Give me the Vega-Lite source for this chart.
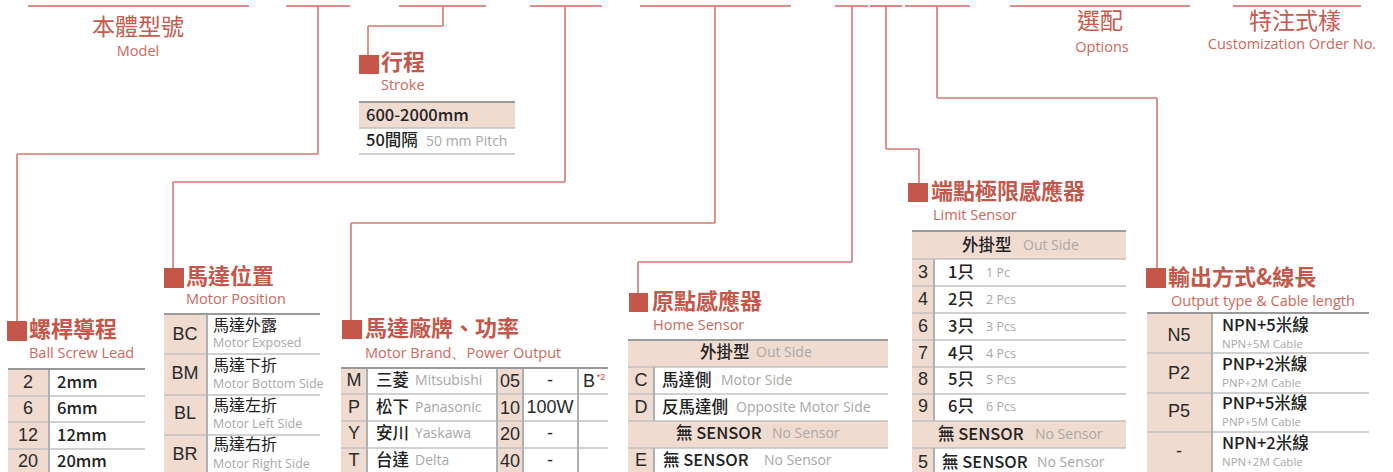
{
  "$schema": "https://vega.github.io/schema/vega-lite/v6.json",
  "width": 1393,
  "height": 472,
  "autosize": {"type": "none"},
  "padding": 0,
  "background": "white",
  "config": {"view": {"stroke": null}},
  "datasets": {
    "pink": [
      {"x": 359, "x2": 515, "y": 102, "y2": 128},
      {"x": 8, "x2": 49, "y": 369, "y2": 472},
      {"x": 164, "x2": 207, "y": 314, "y2": 472},
      {"x": 341, "x2": 367, "y": 368, "y2": 472},
      {"x": 497, "x2": 523, "y": 368, "y2": 472},
      {"x": 628, "x2": 888, "y": 340, "y2": 367},
      {"x": 628, "x2": 654, "y": 367, "y2": 421},
      {"x": 628, "x2": 888, "y": 421, "y2": 448},
      {"x": 628, "x2": 654, "y": 448, "y2": 472},
      {"x": 912, "x2": 1126, "y": 231, "y2": 259},
      {"x": 912, "x2": 934, "y": 259, "y2": 421},
      {"x": 912, "x2": 1126, "y": 421, "y2": 448},
      {"x": 912, "x2": 934, "y": 448, "y2": 472},
      {"x": 1147, "x2": 1212, "y": 313, "y2": 472}
    ],
    "marks": [
      {"x": 7, "x2": 27, "y": 321, "y2": 341},
      {"x": 164, "x2": 184, "y": 268, "y2": 288},
      {"x": 359, "x2": 379, "y": 55, "y2": 74},
      {"x": 342, "x2": 362, "y": 320, "y2": 339},
      {"x": 629, "x2": 648, "y": 293, "y2": 312},
      {"x": 908, "x2": 928, "y": 183, "y2": 202},
      {"x": 1146, "x2": 1166, "y": 268, "y2": 288}
    ],
    "top": [
      {"x": 28, "x2": 249, "y": 6, "y2": 6},
      {"x": 286, "x2": 350, "y": 6, "y2": 6},
      {"x": 399, "x2": 486, "y": 6, "y2": 6},
      {"x": 530, "x2": 602, "y": 6, "y2": 6},
      {"x": 640, "x2": 791, "y": 6, "y2": 6},
      {"x": 835, "x2": 868, "y": 6, "y2": 6},
      {"x": 870, "x2": 902, "y": 6, "y2": 6},
      {"x": 905, "x2": 970, "y": 6, "y2": 6},
      {"x": 1010, "x2": 1190, "y": 6, "y2": 6},
      {"x": 1233, "x2": 1361, "y": 6, "y2": 6}
    ],
    "conn": [
      {"x": 318, "x2": 318, "y": 6, "y2": 154},
      {"x": 17, "x2": 318, "y": 154, "y2": 154},
      {"x": 17, "x2": 17, "y": 154, "y2": 321},
      {"x": 443, "x2": 443, "y": 6, "y2": 26},
      {"x": 368, "x2": 443, "y": 26, "y2": 26},
      {"x": 368, "x2": 368, "y": 26, "y2": 55},
      {"x": 565, "x2": 565, "y": 6, "y2": 182},
      {"x": 173, "x2": 565, "y": 182, "y2": 182},
      {"x": 173, "x2": 173, "y": 182, "y2": 268},
      {"x": 715, "x2": 715, "y": 6, "y2": 223},
      {"x": 351, "x2": 715, "y": 223, "y2": 223},
      {"x": 351, "x2": 351, "y": 223, "y2": 320},
      {"x": 852, "x2": 852, "y": 6, "y2": 262},
      {"x": 638, "x2": 852, "y": 262, "y2": 262},
      {"x": 638, "x2": 638, "y": 262, "y2": 293},
      {"x": 886, "x2": 886, "y": 6, "y2": 149},
      {"x": 886, "x2": 919, "y": 149, "y2": 149},
      {"x": 919, "x2": 919, "y": 149, "y2": 183},
      {"x": 937, "x2": 937, "y": 6, "y2": 98},
      {"x": 937, "x2": 1157, "y": 98, "y2": 98},
      {"x": 1157, "x2": 1157, "y": 98, "y2": 268}
    ],
    "border": [
      {"x": 359, "x2": 515, "y": 102, "y2": 102},
      {"x": 8, "x2": 145, "y": 369, "y2": 369},
      {"x": 164, "x2": 320, "y": 314, "y2": 314},
      {"x": 341, "x2": 608, "y": 368, "y2": 368},
      {"x": 628, "x2": 888, "y": 340, "y2": 340},
      {"x": 912, "x2": 1126, "y": 231, "y2": 231},
      {"x": 1147, "x2": 1369, "y": 313, "y2": 313}
    ],
    "grid": [
      {"x": 359, "x2": 515, "y": 128, "y2": 128},
      {"x": 359, "x2": 515, "y": 154, "y2": 154},
      {"x": 8, "x2": 145, "y": 396, "y2": 396},
      {"x": 8, "x2": 145, "y": 422, "y2": 422},
      {"x": 8, "x2": 145, "y": 449, "y2": 449},
      {"x": 164, "x2": 320, "y": 354, "y2": 354},
      {"x": 164, "x2": 320, "y": 395, "y2": 395},
      {"x": 164, "x2": 320, "y": 435, "y2": 435},
      {"x": 341, "x2": 608, "y": 394, "y2": 394},
      {"x": 341, "x2": 608, "y": 421, "y2": 421},
      {"x": 341, "x2": 608, "y": 448, "y2": 448},
      {"x": 628, "x2": 888, "y": 367, "y2": 367},
      {"x": 628, "x2": 888, "y": 394, "y2": 394},
      {"x": 628, "x2": 888, "y": 421, "y2": 421},
      {"x": 628, "x2": 888, "y": 448, "y2": 448},
      {"x": 912, "x2": 1126, "y": 259, "y2": 259},
      {"x": 912, "x2": 1126, "y": 286, "y2": 286},
      {"x": 912, "x2": 1126, "y": 313, "y2": 313},
      {"x": 912, "x2": 1126, "y": 340, "y2": 340},
      {"x": 912, "x2": 1126, "y": 367, "y2": 367},
      {"x": 912, "x2": 1126, "y": 394, "y2": 394},
      {"x": 912, "x2": 1126, "y": 421, "y2": 421},
      {"x": 912, "x2": 1126, "y": 448, "y2": 448},
      {"x": 1147, "x2": 1369, "y": 353, "y2": 353},
      {"x": 1147, "x2": 1369, "y": 393, "y2": 393},
      {"x": 1147, "x2": 1369, "y": 432, "y2": 432}
    ],
    "vsep": [
      {"x": 49, "x2": 49, "y": 369, "y2": 472},
      {"x": 207, "x2": 207, "y": 314, "y2": 472},
      {"x": 367, "x2": 367, "y": 368, "y2": 472},
      {"x": 497, "x2": 497, "y": 368, "y2": 472},
      {"x": 523, "x2": 523, "y": 368, "y2": 472},
      {"x": 578, "x2": 578, "y": 368, "y2": 472},
      {"x": 654, "x2": 654, "y": 367, "y2": 421},
      {"x": 654, "x2": 654, "y": 448, "y2": 472},
      {"x": 934, "x2": 934, "y": 259, "y2": 421},
      {"x": 934, "x2": 934, "y": 448, "y2": 472},
      {"x": 1212, "x2": 1212, "y": 313, "y2": 472}
    ],
    "htop": [
      {"x": 138, "y": 28, "t": "本體型號"},
      {"x": 1100, "y": 22, "t": "選配"},
      {"x": 1295, "y": 22, "t": "特注式樣"}
    ],
    "hsub": [
      {"x": 138, "y": 52, "t": "Model"},
      {"x": 1102, "y": 48, "t": "Options"},
      {"x": 1292, "y": 45, "t": "Customization Order No."}
    ],
    "title": [
      {"x": 29, "y": 330, "t": "螺桿導程"},
      {"x": 186, "y": 277, "t": "馬達位置"},
      {"x": 381, "y": 63, "t": "行程"},
      {"x": 365, "y": 329, "t": "馬達廠牌、功率"},
      {"x": 652, "y": 302, "t": "原點感應器"},
      {"x": 931, "y": 192, "t": "端點極限感應器"},
      {"x": 1168, "y": 278, "t": "輸出方式&線長"}
    ],
    "sub": [
      {"x": 29, "y": 354, "t": "Ball Screw Lead"},
      {"x": 186, "y": 300, "t": "Motor Position"},
      {"x": 381, "y": 86, "t": "Stroke"},
      {"x": 365, "y": 354, "t": "Motor Brand、Power Output"},
      {"x": 653, "y": 326, "t": "Home Sensor"},
      {"x": 933, "y": 216, "t": "Limit Sensor"},
      {"x": 1171, "y": 302, "t": "Output type & Cable length"}
    ],
    "code": [
      {"x": 28, "y": 383, "t": "2"},
      {"x": 28, "y": 409, "t": "6"},
      {"x": 28, "y": 436, "t": "12"},
      {"x": 28, "y": 462, "t": "20"},
      {"x": 185, "y": 335, "t": "BC"},
      {"x": 185, "y": 374, "t": "BM"},
      {"x": 185, "y": 414, "t": "BL"},
      {"x": 185, "y": 455, "t": "BR"},
      {"x": 354, "y": 381, "t": "M"},
      {"x": 354, "y": 408, "t": "P"},
      {"x": 354, "y": 434, "t": "Y"},
      {"x": 354, "y": 461, "t": "T"},
      {"x": 510, "y": 382, "t": "05"},
      {"x": 510, "y": 409, "t": "10"},
      {"x": 510, "y": 435, "t": "20"},
      {"x": 510, "y": 462, "t": "40"},
      {"x": 550, "y": 381, "t": "-"},
      {"x": 550, "y": 408, "t": "100W"},
      {"x": 550, "y": 434, "t": "-"},
      {"x": 550, "y": 461, "t": "-"},
      {"x": 589, "y": 382, "t": "B"},
      {"x": 641, "y": 381, "t": "C"},
      {"x": 641, "y": 408, "t": "D"},
      {"x": 641, "y": 461, "t": "E"},
      {"x": 923, "y": 273, "t": "3"},
      {"x": 923, "y": 300, "t": "4"},
      {"x": 923, "y": 327, "t": "6"},
      {"x": 923, "y": 354, "t": "7"},
      {"x": 923, "y": 380, "t": "8"},
      {"x": 923, "y": 407, "t": "9"},
      {"x": 923, "y": 463, "t": "5"},
      {"x": 1179, "y": 336, "t": "N5"},
      {"x": 1179, "y": 374, "t": "P2"},
      {"x": 1179, "y": 412, "t": "P5"},
      {"x": 1179, "y": 452, "t": "-"}
    ],
    "sup": [
      {"x": 601, "y": 377, "t": "*2"}
    ],
    "cn": [
      {"x": 366, "y": 116, "t": "600-2000mm"},
      {"x": 366, "y": 141, "t": "50間隔"},
      {"x": 57, "y": 383, "t": "2mm"},
      {"x": 57, "y": 409, "t": "6mm"},
      {"x": 57, "y": 436, "t": "12mm"},
      {"x": 57, "y": 462, "t": "20mm"},
      {"x": 376, "y": 381, "t": "三菱"},
      {"x": 376, "y": 408, "t": "松下"},
      {"x": 376, "y": 434, "t": "安川"},
      {"x": 376, "y": 461, "t": "台達"},
      {"x": 700, "y": 353, "t": "外掛型"},
      {"x": 662, "y": 381, "t": "馬達側"},
      {"x": 662, "y": 408, "t": "反馬達側"},
      {"x": 676, "y": 434, "t": "無 SENSOR"},
      {"x": 663, "y": 461, "t": "無 SENSOR"},
      {"x": 962, "y": 246, "t": "外掛型"},
      {"x": 948, "y": 273, "t": "1只"},
      {"x": 948, "y": 300, "t": "2只"},
      {"x": 948, "y": 327, "t": "3只"},
      {"x": 948, "y": 354, "t": "4只"},
      {"x": 948, "y": 380, "t": "5只"},
      {"x": 948, "y": 407, "t": "6只"},
      {"x": 938, "y": 435, "t": "無 SENSOR"},
      {"x": 942, "y": 463, "t": "無 SENSOR"}
    ],
    "cnm": [
      {"x": 213, "y": 326, "t": "馬達外露"},
      {"x": 213, "y": 366, "t": "馬達下折"},
      {"x": 213, "y": 406, "t": "馬達左折"},
      {"x": 213, "y": 445, "t": "馬達右折"}
    ],
    "cnl": [
      {"x": 1222, "y": 326, "t": "NPN+5米線"},
      {"x": 1222, "y": 365, "t": "PNP+2米線"},
      {"x": 1222, "y": 404, "t": "PNP+5米線"},
      {"x": 1222, "y": 444, "t": "NPN+2米線"}
    ],
    "en": [
      {"x": 426, "y": 142, "t": "50 mm Pitch"},
      {"x": 415, "y": 381, "t": "Mitsubishi"},
      {"x": 415, "y": 408, "t": "Panasonic"},
      {"x": 415, "y": 434, "t": "Yaskawa"},
      {"x": 415, "y": 461, "t": "Delta"},
      {"x": 756, "y": 353, "t": "Out Side"},
      {"x": 721, "y": 381, "t": "Motor Side"},
      {"x": 736, "y": 408, "t": "Opposite Motor Side"},
      {"x": 772, "y": 434, "t": "No Sensor"},
      {"x": 764, "y": 461, "t": "No Sensor"},
      {"x": 1023, "y": 246, "t": "Out Side"},
      {"x": 1035, "y": 435, "t": "No Sensor"},
      {"x": 1037, "y": 463, "t": "No Sensor"}
    ],
    "enm": [
      {"x": 213, "y": 343, "t": "Motor Exposed"},
      {"x": 213, "y": 384, "t": "Motor Bottom Side"},
      {"x": 213, "y": 424, "t": "Motor Left Side"},
      {"x": 213, "y": 464, "t": "Motor Right Side"},
      {"x": 986, "y": 273, "t": "1 Pc"},
      {"x": 986, "y": 300, "t": "2 Pcs"},
      {"x": 986, "y": 327, "t": "3 Pcs"},
      {"x": 986, "y": 354, "t": "4 Pcs"},
      {"x": 986, "y": 380, "t": "5 Pcs"},
      {"x": 986, "y": 407, "t": "6 Pcs"}
    ],
    "ens": [
      {"x": 1222, "y": 345, "t": "NPN+5M Cable"},
      {"x": 1222, "y": 384, "t": "PNP+2M Cable"},
      {"x": 1222, "y": 423, "t": "PNP+5M Cable"},
      {"x": 1222, "y": 463, "t": "NPN+2M Cable"}
    ]
  },
  "encoding": {
    "x": {"field": "x", "type": "quantitative", "scale": {"domain": [0, 1393], "nice": false, "zero": false}, "axis": null},
    "y": {"field": "y", "type": "quantitative", "scale": {"domain": [0, 472], "reverse": true, "nice": false, "zero": false}, "axis": null}
  },
  "layer": [
    {"data": {"name": "pink"}, "mark": {"type": "rect", "color": "#f0dbd0"}, "encoding": {"x2": {"field": "x2"}, "y2": {"field": "y2"}}},
    {"data": {"name": "marks"}, "mark": {"type": "rect", "color": "#c4574a"}, "encoding": {"x2": {"field": "x2"}, "y2": {"field": "y2"}}},
    {"data": {"name": "top"}, "mark": {"type": "rule", "color": "#d2695d", "strokeWidth": 1.6}, "encoding": {"x2": {"field": "x2"}, "y2": {"field": "y2"}}},
    {"data": {"name": "conn"}, "mark": {"type": "rule", "color": "#d7796e", "strokeWidth": 1.6}, "encoding": {"x2": {"field": "x2"}, "y2": {"field": "y2"}}},
    {"data": {"name": "grid"}, "mark": {"type": "rule", "color": "#c2c2c2", "strokeWidth": 1.5}, "encoding": {"x2": {"field": "x2"}, "y2": {"field": "y2"}}},
    {"data": {"name": "vsep"}, "mark": {"type": "rule", "color": "#b0b0b0", "strokeWidth": 2}, "encoding": {"x2": {"field": "x2"}, "y2": {"field": "y2"}}},
    {"data": {"name": "border"}, "mark": {"type": "rule", "color": "#9a9a9a", "strokeWidth": 2}, "encoding": {"x2": {"field": "x2"}, "y2": {"field": "y2"}}},
    {"data": {"name": "htop"}, "mark": {"type": "text", "align": "center", "baseline": "middle", "font": "Noto Sans CJK TC", "fontSize": 23, "color": "#c9584c"}, "encoding": {"text": {"field": "t"}}},
    {"data": {"name": "hsub"}, "mark": {"type": "text", "align": "center", "baseline": "middle", "font": "Open Sans", "fontSize": 14.5, "color": "#d0675c"}, "encoding": {"text": {"field": "t"}}},
    {"data": {"name": "title"}, "mark": {"type": "text", "align": "left", "baseline": "middle", "font": "Noto Sans CJK TC", "fontWeight": "bold", "fontSize": 22, "color": "#c4574a"}, "encoding": {"text": {"field": "t"}}},
    {"data": {"name": "sub"}, "mark": {"type": "text", "align": "left", "baseline": "middle", "font": "Open Sans", "fontSize": 14.5, "color": "#d0675c"}, "encoding": {"text": {"field": "t"}}},
    {"data": {"name": "code"}, "mark": {"type": "text", "align": "center", "baseline": "middle", "font": "Liberation Sans", "fontSize": 18, "color": "#2a2a2a"}, "encoding": {"text": {"field": "t"}}},
    {"data": {"name": "sup"}, "mark": {"type": "text", "align": "center", "baseline": "middle", "font": "Liberation Sans", "fontSize": 9, "color": "#e23b3b"}, "encoding": {"text": {"field": "t"}}},
    {"data": {"name": "cn"}, "mark": {"type": "text", "align": "left", "baseline": "middle", "font": "Noto Sans CJK TC", "fontWeight": 500, "fontSize": 16.5, "color": "#222222"}, "encoding": {"text": {"field": "t"}}},
    {"data": {"name": "cnm"}, "mark": {"type": "text", "align": "left", "baseline": "middle", "font": "Noto Sans CJK TC", "fontSize": 16, "color": "#222222"}, "encoding": {"text": {"field": "t"}}},
    {"data": {"name": "cnl"}, "mark": {"type": "text", "align": "left", "baseline": "middle", "font": "Noto Sans CJK TC", "fontWeight": 500, "fontSize": 16.5, "color": "#222222"}, "encoding": {"text": {"field": "t"}}},
    {"data": {"name": "en"}, "mark": {"type": "text", "align": "left", "baseline": "middle", "font": "Open Sans", "fontSize": 14, "color": "#a8a8a8"}, "encoding": {"text": {"field": "t"}}},
    {"data": {"name": "enm"}, "mark": {"type": "text", "align": "left", "baseline": "middle", "font": "Open Sans", "fontSize": 12.5, "color": "#a8a8a8"}, "encoding": {"text": {"field": "t"}}},
    {"data": {"name": "ens"}, "mark": {"type": "text", "align": "left", "baseline": "middle", "font": "Open Sans", "fontSize": 11.5, "color": "#a8a8a8"}, "encoding": {"text": {"field": "t"}}}
  ]
}
